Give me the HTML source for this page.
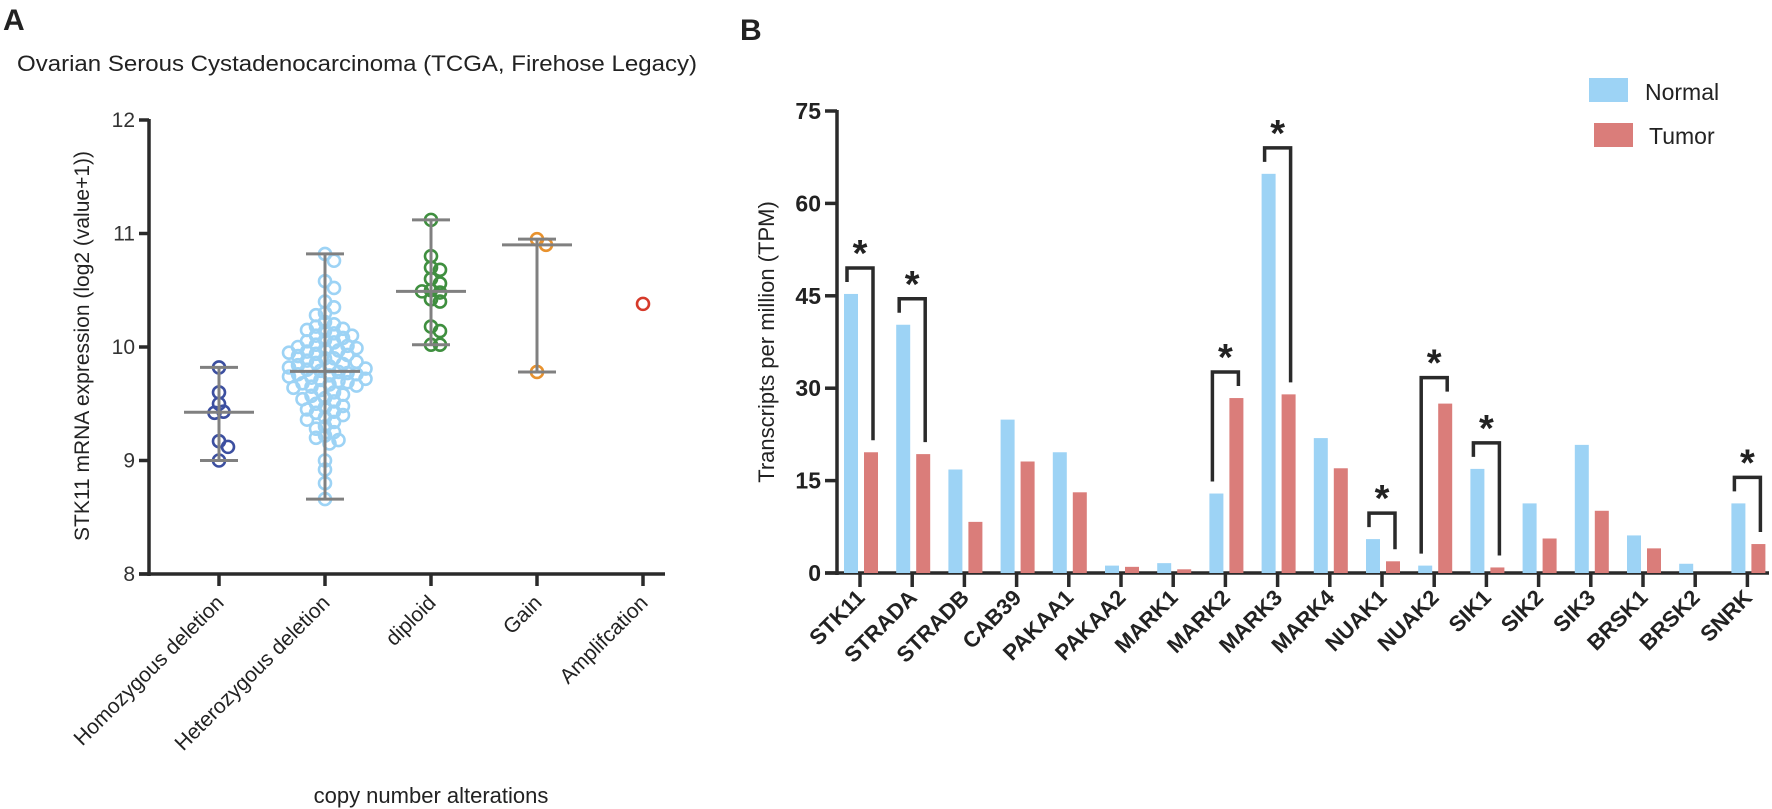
<!DOCTYPE html>
<html><head><meta charset="utf-8"><style>
html,body{margin:0;padding:0;background:#fff;}
svg{display:block;font-family:"Liberation Sans",Arial,sans-serif;}
</style></head><body>
<svg id="fig" width="1772" height="809" viewBox="0 0 1772 809" xmlns="http://www.w3.org/2000/svg">
  <text x="3" y="30" font-size="30" font-weight="bold" fill="#222">A</text>
  <text x="740" y="40" font-size="30" font-weight="bold" fill="#222">B</text>
  <text x="17" y="71" font-size="22" fill="#222" textLength="680" lengthAdjust="spacingAndGlyphs">Ovarian Serous Cystadenocarcinoma (TCGA, Firehose Legacy)</text>
  <g id="panelA"></g>
  <g id="panelB"></g>
</svg>
<script>
// ---------- Panel A data ----------
const groupsA = ["Homozygous deletion","Heterozygous deletion","diploid","Gain","Amplifcation"];
const homoVals = [9.82,9.6,9.5,9.43,9.42,9.17,9.12,9.0];
const heteroVals = [10.82,10.76,10.58,10.52,10.4,10.35,10.3,10.28,10.22,10.2,10.18,10.16,10.15,10.14,10.12,10.1,10.1,10.08,10.06,10.05,10.04,10.02,10.01,10.0,9.99,9.98,9.97,9.96,9.95,9.94,9.93,9.92,9.9,9.9,9.88,9.87,9.86,9.85,9.84,9.83,9.82,9.81,9.8,9.79,9.78,9.77,9.76,9.76,9.75,9.74,9.73,9.72,9.71,9.7,9.69,9.68,9.67,9.66,9.65,9.64,9.62,9.6,9.58,9.57,9.55,9.54,9.52,9.5,9.48,9.47,9.45,9.43,9.42,9.4,9.38,9.36,9.34,9.3,9.28,9.25,9.22,9.2,9.18,9.15,9.0,8.92,8.8,8.66];
const diploidVals = [11.12,10.8,10.7,10.68,10.6,10.56,10.5,10.49,10.48,10.42,10.4,10.18,10.14,10.02,10.02];
const gainVals = [10.95,10.9,9.78];
const ampVals = [10.38];
const groupColorsA = ["#3c4fa0","#9dd3f5","#3f8f3f","#e8922e","#d63a2a"];
const yTicksA = [8,9,10,11,12];

// ---------- Panel B data ----------
const genes = ["STK11","STRADA","STRADB","CAB39","PAKAA1","PAKAA2","MARK1","MARK2","MARK3","MARK4","NUAK1","NUAK2","SIK1","SIK2","SIK3","BRSK1","BRSK2","SNRK"];
const normalVals = [45.3,40.3,16.8,24.9,19.6,1.2,1.6,12.9,64.8,21.9,5.5,1.2,16.9,11.3,20.8,6.1,1.5,11.3];
const tumorVals  = [19.6,19.3,8.3,18.1,13.1,1.0,0.6,28.4,29.0,17.0,1.9,27.5,0.9,5.6,10.1,4.0,0.0,4.7];
const significant = ["STK11","STRADA","MARK2","MARK3","NUAK1","NUAK2","SIK1","SNRK"];
const yTicksB = [0,15,30,45,60,75];

const NS="http://www.w3.org/2000/svg";
function mk(tag, attrs, parent, txt){const e=document.createElementNS(NS,tag);for(const k in attrs)e.setAttribute(k,attrs[k]);if(txt!==undefined)e.textContent=txt;parent.appendChild(e);return e;}

// ===== Panel A =====
const gA=document.getElementById('panelA');
const axA={x0:149,x1:665,yBase:574};
const yA=v=>574-(v-8)*113.5;
const xA=i=>219+i*106;
let e;
e=mk('line',{x1:axA.x0,y1:yA(12)-1,x2:axA.x0,y2:axA.yBase+2,stroke:'#2a2a2a','stroke-width':3.5},gA);

e=mk('line',{x1:axA.x0-10,y1:axA.yBase,x2:axA.x1,y2:axA.yBase,stroke:'#2a2a2a','stroke-width':3.5},gA);

yTicksA.forEach(t=>{
  e=mk('line',{x1:axA.x0-10,y1:yA(t),x2:axA.x0,y2:yA(t),stroke:'#2a2a2a','stroke-width':3.5},gA);
  
  e=mk('text',{x:axA.x0-14,y:yA(t)+7,'text-anchor':'end','font-size':21,fill:'#333'},gA,String(t));
  
});
e=mk('text',{transform:'translate(89,346) rotate(-90)','text-anchor':'middle','font-size':21,fill:'#222'},gA,'STK11 mRNA expression (log2 (value+1))');

e=mk('text',{x:431,y:803,'text-anchor':'middle','font-size':22,fill:'#222'},gA,'copy number alterations');


const allA=[homoVals,heteroVals,diploidVals,gainVals,ampVals];
allA.forEach((vals,i)=>{
  const cx=xA(i);
  e=mk('line',{x1:cx,y1:axA.yBase,x2:cx,y2:axA.yBase+12,stroke:'#2a2a2a','stroke-width':3.5},gA);
  
  e=mk('text',{transform:`translate(${cx+6},${axA.yBase+30}) rotate(-45)`,'text-anchor':'end','font-size':21,fill:'#222'},gA,groupsA[i]);
  
  // beeswarm layout
  const placed=[]; const dmin=9;
  const sorted=vals.slice();
  sorted.forEach(v=>{
    const py=yA(v); let px=cx;
    for(let k=0;k<40;k++){
      const off=(k%2?1:-1)*Math.ceil(k/2)*4.5; const tx=cx+off;
      if(placed.every(p=>Math.hypot(p[0]-tx,p[1]-py)>=dmin)){px=tx;break;}
    }
    placed.push([px,py]);
    e=mk('circle',{cx:px,cy:py,r:6,fill:'none',stroke:groupColorsA[i],'stroke-width':2.6},gA);
    
  });
  if(vals.length>1){
    const s=vals.slice().sort((a,b)=>a-b);
    const mid=s.length%2?s[(s.length-1)/2]:(s[s.length/2-1]+s[s.length/2])/2;
    const lo=s[0],hi=s[s.length-1];
    e=mk('line',{x1:cx,y1:yA(lo),x2:cx,y2:yA(hi),stroke:'#808080','stroke-width':3},gA);
    
    [lo,hi].forEach(v=>{e=mk('line',{x1:cx-19,y1:yA(v),x2:cx+19,y2:yA(v),stroke:'#808080','stroke-width':3},gA);
      });
    e=mk('line',{x1:cx-35,y1:yA(mid),x2:cx+35,y2:yA(mid),stroke:'#808080','stroke-width':3},gA);
    
  }
});

// ===== Panel B =====
const gB=document.getElementById('panelB');
const axB={x0:837,x1:1769,yBase:573};
const yB=v=>573-v*6.16;
const xB=i=>860+i*52.2;
e=mk('line',{x1:axB.x0,y1:yB(75)-1,x2:axB.x0,y2:axB.yBase+2,stroke:'#2a2a2a','stroke-width':3.5},gB);

e=mk('line',{x1:axB.x0-12,y1:axB.yBase,x2:axB.x1,y2:axB.yBase,stroke:'#2a2a2a','stroke-width':3.5},gB);

yTicksB.forEach(t=>{
  e=mk('line',{x1:axB.x0-12,y1:yB(t),x2:axB.x0,y2:yB(t),stroke:'#2a2a2a','stroke-width':3.5},gB);
  
  e=mk('text',{x:axB.x0-16,y:yB(t)+8,'text-anchor':'end','font-size':23,'font-weight':'bold',fill:'#222'},gB,String(t));
  
});
e=mk('text',{transform:'translate(774,342) rotate(-90)','text-anchor':'middle','font-size':22,fill:'#222'},gB,'Transcripts per million (TPM)');


genes.forEach((g,i)=>{
  const c=xB(i);
  e=mk('rect',{x:c-16,y:yB(normalVals[i]),width:14,height:normalVals[i]*6.16,fill:'#9dd3f5'},gB);
  
  e=mk('rect',{x:c+4,y:yB(tumorVals[i]),width:14,height:tumorVals[i]*6.16,fill:'#da7d7a'},gB);
  
  e=mk('line',{x1:c,y1:axB.yBase,x2:c,y2:axB.yBase+14,stroke:'#2a2a2a','stroke-width':3.5},gB);
  
  e=mk('text',{transform:`translate(${c+6},${axB.yBase+26}) rotate(-45)`,'text-anchor':'end','font-size':22,'font-weight':'bold',fill:'#222'},gB,g);
  
  if(significant.includes(g)){
    const yn=yB(normalVals[i]), yt=yB(tumorVals[i]);
    const top=Math.min(yn,yt)-26;
    const lx=c-13, rx=c+13;
    e=mk('polyline',{points:`${lx},${yn-12} ${lx},${top} ${rx},${top} ${rx},${yt-12}`,fill:'none',stroke:'#2a2a2a','stroke-width':3.5},gB);
    
    e=mk('text',{x:c,y:top-2,'text-anchor':'middle','font-size':38,'font-weight':'bold',fill:'#222'},gB,'*');
    
  }
});
// legend
e=mk('rect',{x:1589,y:78,width:39,height:24,fill:'#9dd3f5'},gB);

e=mk('text',{x:1645,y:100,'font-size':23,fill:'#222'},gB,'Normal');

e=mk('rect',{x:1594,y:123,width:39,height:24,fill:'#da7d7a'},gB);

e=mk('text',{x:1649,y:144,'font-size':23,fill:'#222'},gB,'Tumor');

</script>
</body></html>
